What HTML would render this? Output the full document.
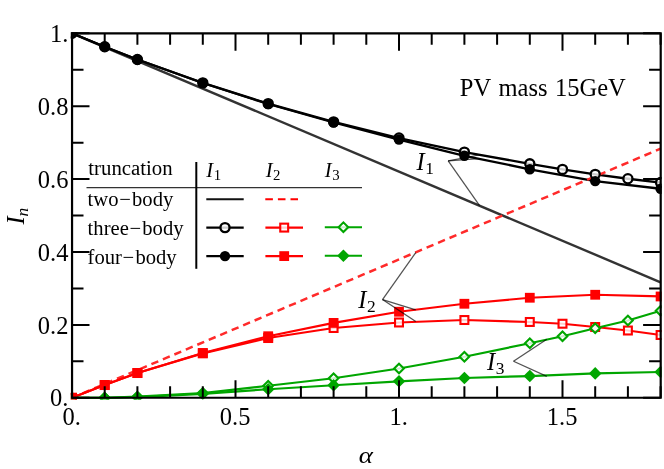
<!DOCTYPE html>
<html lang="en"><head><meta charset="utf-8"><title>PV mass 15GeV</title>
<style>html,body{margin:0;padding:0;background:#fff}svg{display:block}text{font-family:"Liberation Serif",serif;fill:#000}</style>
</head><body>
<svg width="664" height="469" viewBox="0 0 664 469">
<rect width="664" height="469" fill="#fff"/>
<defs><clipPath id="c"><rect x="70.8" y="32.3" width="590.8" height="367.3"/></clipPath></defs>
<g clip-path="url(#c)">
<line x1="72" y1="33.3" x2="660.6" y2="282.29" stroke="#333" stroke-width="2.4"/>
<polyline points="72,33.3 104.7,46.79 137.4,59.54 202.8,82.87 268.2,103.65 333.6,121.87 399,138.02 464.4,152.13 529.8,163.79 562.5,169.4 595.2,174.36 627.9,178.74 660.6,182.56" fill="none" stroke="#000" stroke-width="2.3" stroke-linejoin="round" />
<polyline points="72,33.3 104.7,46.79 137.4,59.54 202.8,83.02 268.2,104.01 333.6,122.49 399,139.52 464.4,155.77 529.8,169.26 595.2,181.1 660.6,188.76" fill="none" stroke="#000" stroke-width="2.3" stroke-linejoin="round" />
<line x1="72" y1="397.8" x2="660.6" y2="148.68" stroke="#ff2a2a" stroke-width="2.5" stroke-dasharray="7.45 5" stroke-dashoffset="0.9"/>
<polyline points="72,397.8 104.7,385.04 137.4,373.01 202.8,353.33 268.2,338.02 333.6,328 399,322.49 464.4,320.02 529.8,321.98 562.5,323.73 595.2,327.01 627.9,330.51 660.6,335" fill="none" stroke="#ff0000" stroke-width="2.2" stroke-linejoin="round" />
<polyline points="72,397.8 104.7,385.01 137.4,373.01 202.8,353 268.2,336.24 333.6,322.9 399,311.74 464.4,303.76 529.8,297.74 595.2,294.76 660.6,296.47" fill="none" stroke="#ff0000" stroke-width="2.2" stroke-linejoin="round" />
<polyline points="72,397.8 104.7,397.8 137.4,396.71 202.8,393.06 268.2,385.77 333.6,378.26 399,368.49 464.4,356.76 529.8,343.23 562.5,336.24 595.2,328.25 627.9,320.49 660.6,310.76" fill="none" stroke="#00a600" stroke-width="2.2" stroke-linejoin="round" />
<polyline points="72,397.8 104.7,397.8 137.4,397.07 202.8,393.79 268.2,389.23 333.6,385.26 399,381.32 464.4,378.01 529.8,376.04 595.2,373.38 660.6,371.99" fill="none" stroke="#00a600" stroke-width="2.2" stroke-linejoin="round" />
<circle cx="72" cy="33.3" r="4.55" fill="#fff" fill-opacity="0.8" stroke="#000" stroke-width="2.3"/>
<circle cx="104.7" cy="46.79" r="4.55" fill="#fff" fill-opacity="0.8" stroke="#000" stroke-width="2.3"/>
<circle cx="137.4" cy="59.54" r="4.55" fill="#fff" fill-opacity="0.8" stroke="#000" stroke-width="2.3"/>
<circle cx="202.8" cy="82.87" r="4.55" fill="#fff" fill-opacity="0.8" stroke="#000" stroke-width="2.3"/>
<circle cx="268.2" cy="103.65" r="4.55" fill="#fff" fill-opacity="0.8" stroke="#000" stroke-width="2.3"/>
<circle cx="333.6" cy="121.87" r="4.55" fill="#fff" fill-opacity="0.8" stroke="#000" stroke-width="2.3"/>
<circle cx="399" cy="138.02" r="4.55" fill="#fff" fill-opacity="0.8" stroke="#000" stroke-width="2.3"/>
<circle cx="464.4" cy="152.13" r="4.55" fill="#fff" fill-opacity="0.8" stroke="#000" stroke-width="2.3"/>
<circle cx="529.8" cy="163.79" r="4.55" fill="#fff" fill-opacity="0.8" stroke="#000" stroke-width="2.3"/>
<circle cx="562.5" cy="169.4" r="4.55" fill="#fff" fill-opacity="0.8" stroke="#000" stroke-width="2.3"/>
<circle cx="595.2" cy="174.36" r="4.55" fill="#fff" fill-opacity="0.8" stroke="#000" stroke-width="2.3"/>
<circle cx="627.9" cy="178.74" r="4.55" fill="#fff" fill-opacity="0.8" stroke="#000" stroke-width="2.3"/>
<circle cx="660.6" cy="182.56" r="4.55" fill="#fff" fill-opacity="0.8" stroke="#000" stroke-width="2.3"/>
<circle cx="72" cy="33.3" r="5.2" fill="#000"/>
<circle cx="104.7" cy="46.79" r="5.2" fill="#000"/>
<circle cx="137.4" cy="59.54" r="5.2" fill="#000"/>
<circle cx="202.8" cy="83.02" r="5.2" fill="#000"/>
<circle cx="268.2" cy="104.01" r="5.2" fill="#000"/>
<circle cx="333.6" cy="122.49" r="5.2" fill="#000"/>
<circle cx="399" cy="139.52" r="5.2" fill="#000"/>
<circle cx="464.4" cy="155.77" r="5.2" fill="#000"/>
<circle cx="529.8" cy="169.26" r="5.2" fill="#000"/>
<circle cx="595.2" cy="181.1" r="5.2" fill="#000"/>
<circle cx="660.6" cy="188.76" r="5.2" fill="#000"/>
<polygon points="65.7,397.8 72,391.5 78.3,397.8 72,404.1" fill="#00a600"/>
<rect x="68.05" y="393.85" width="7.9" height="7.9" fill="#fff" fill-opacity="0.8" stroke="#ff0000" stroke-width="2.1"/>
<rect x="100.75" y="381.09" width="7.9" height="7.9" fill="#fff" fill-opacity="0.8" stroke="#ff0000" stroke-width="2.1"/>
<rect x="133.45" y="369.06" width="7.9" height="7.9" fill="#fff" fill-opacity="0.8" stroke="#ff0000" stroke-width="2.1"/>
<rect x="198.85" y="349.38" width="7.9" height="7.9" fill="#fff" fill-opacity="0.8" stroke="#ff0000" stroke-width="2.1"/>
<rect x="264.25" y="334.07" width="7.9" height="7.9" fill="#fff" fill-opacity="0.8" stroke="#ff0000" stroke-width="2.1"/>
<rect x="329.65" y="324.05" width="7.9" height="7.9" fill="#fff" fill-opacity="0.8" stroke="#ff0000" stroke-width="2.1"/>
<rect x="395.05" y="318.54" width="7.9" height="7.9" fill="#fff" fill-opacity="0.8" stroke="#ff0000" stroke-width="2.1"/>
<rect x="460.45" y="316.07" width="7.9" height="7.9" fill="#fff" fill-opacity="0.8" stroke="#ff0000" stroke-width="2.1"/>
<rect x="525.85" y="318.03" width="7.9" height="7.9" fill="#fff" fill-opacity="0.8" stroke="#ff0000" stroke-width="2.1"/>
<rect x="558.55" y="319.78" width="7.9" height="7.9" fill="#fff" fill-opacity="0.8" stroke="#ff0000" stroke-width="2.1"/>
<rect x="591.25" y="323.06" width="7.9" height="7.9" fill="#fff" fill-opacity="0.8" stroke="#ff0000" stroke-width="2.1"/>
<rect x="623.95" y="326.56" width="7.9" height="7.9" fill="#fff" fill-opacity="0.8" stroke="#ff0000" stroke-width="2.1"/>
<rect x="656.65" y="331.05" width="7.9" height="7.9" fill="#fff" fill-opacity="0.8" stroke="#ff0000" stroke-width="2.1"/>
<rect x="67.1" y="392.9" width="9.8" height="9.8" fill="#ff0000"/>
<rect x="99.8" y="380.11" width="9.8" height="9.8" fill="#ff0000"/>
<rect x="132.5" y="368.11" width="9.8" height="9.8" fill="#ff0000"/>
<rect x="197.9" y="348.1" width="9.8" height="9.8" fill="#ff0000"/>
<rect x="263.3" y="331.34" width="9.8" height="9.8" fill="#ff0000"/>
<rect x="328.7" y="318" width="9.8" height="9.8" fill="#ff0000"/>
<rect x="394.1" y="306.84" width="9.8" height="9.8" fill="#ff0000"/>
<rect x="459.5" y="298.86" width="9.8" height="9.8" fill="#ff0000"/>
<rect x="524.9" y="292.84" width="9.8" height="9.8" fill="#ff0000"/>
<rect x="590.3" y="289.86" width="9.8" height="9.8" fill="#ff0000"/>
<rect x="655.7" y="291.57" width="9.8" height="9.8" fill="#ff0000"/>
<polygon points="99.87,397.8 104.7,392.97 109.53,397.8 104.7,402.63" fill="#fff" fill-opacity="0.8" stroke="#00a600" stroke-width="2.1"/>
<polygon points="132.57,396.71 137.4,391.88 142.23,396.71 137.4,401.54" fill="#fff" fill-opacity="0.8" stroke="#00a600" stroke-width="2.1"/>
<polygon points="197.97,393.06 202.8,388.23 207.63,393.06 202.8,397.89" fill="#fff" fill-opacity="0.8" stroke="#00a600" stroke-width="2.1"/>
<polygon points="263.37,385.77 268.2,380.94 273.03,385.77 268.2,390.6" fill="#fff" fill-opacity="0.8" stroke="#00a600" stroke-width="2.1"/>
<polygon points="328.77,378.26 333.6,373.43 338.43,378.26 333.6,383.09" fill="#fff" fill-opacity="0.8" stroke="#00a600" stroke-width="2.1"/>
<polygon points="394.17,368.49 399,363.66 403.83,368.49 399,373.32" fill="#fff" fill-opacity="0.8" stroke="#00a600" stroke-width="2.1"/>
<polygon points="459.57,356.76 464.4,351.93 469.23,356.76 464.4,361.59" fill="#fff" fill-opacity="0.8" stroke="#00a600" stroke-width="2.1"/>
<polygon points="524.97,343.23 529.8,338.4 534.63,343.23 529.8,348.06" fill="#fff" fill-opacity="0.8" stroke="#00a600" stroke-width="2.1"/>
<polygon points="557.67,336.24 562.5,331.41 567.33,336.24 562.5,341.07" fill="#fff" fill-opacity="0.8" stroke="#00a600" stroke-width="2.1"/>
<polygon points="590.37,328.25 595.2,323.42 600.03,328.25 595.2,333.08" fill="#fff" fill-opacity="0.8" stroke="#00a600" stroke-width="2.1"/>
<polygon points="623.07,320.49 627.9,315.66 632.73,320.49 627.9,325.32" fill="#fff" fill-opacity="0.8" stroke="#00a600" stroke-width="2.1"/>
<polygon points="655.77,310.76 660.6,305.93 665.43,310.76 660.6,315.59" fill="#fff" fill-opacity="0.8" stroke="#00a600" stroke-width="2.1"/>
<polygon points="98.4,397.8 104.7,391.5 111,397.8 104.7,404.1" fill="#00a600"/>
<polygon points="131.1,397.07 137.4,390.77 143.7,397.07 137.4,403.37" fill="#00a600"/>
<polygon points="196.5,393.79 202.8,387.49 209.1,393.79 202.8,400.09" fill="#00a600"/>
<polygon points="261.9,389.23 268.2,382.93 274.5,389.23 268.2,395.53" fill="#00a600"/>
<polygon points="327.3,385.26 333.6,378.96 339.9,385.26 333.6,391.56" fill="#00a600"/>
<polygon points="392.7,381.32 399,375.02 405.3,381.32 399,387.62" fill="#00a600"/>
<polygon points="458.1,378.01 464.4,371.71 470.7,378.01 464.4,384.31" fill="#00a600"/>
<polygon points="523.5,376.04 529.8,369.74 536.1,376.04 529.8,382.34" fill="#00a600"/>
<polygon points="588.9,373.38 595.2,367.08 601.5,373.38 595.2,379.68" fill="#00a600"/>
<polygon points="654.3,371.99 660.6,365.69 666.9,371.99 660.6,378.29" fill="#00a600"/>
</g>
<g stroke="#000" stroke-opacity="0.68" stroke-width="1.25" fill="none"><line x1="448.2" y1="160.8" x2="479" y2="155"/><line x1="448.2" y1="160.8" x2="479" y2="158.6"/><line x1="448.2" y1="160.8" x2="479.6" y2="205.7"/><line x1="382.5" y1="299.6" x2="415.75" y2="252.6"/><line x1="382.5" y1="299.6" x2="415.75" y2="309.8"/><line x1="382.5" y1="299.6" x2="415.75" y2="321.6"/><line x1="513.5" y1="361.25" x2="546.8" y2="339.3"/><line x1="513.5" y1="361.25" x2="546.8" y2="376.4"/></g>
<g stroke="#000" fill="none">
<path d="M72.05 33.45H660.7V397.75H72.05Z" stroke-width="2.2"/>
<path d="M72 397.8v-17.5M72 33.3v17.5M104.7 397.8v-11.5M104.7 33.3v11.5M137.4 397.8v-11.5M137.4 33.3v11.5M170.1 397.8v-11.5M170.1 33.3v11.5M202.8 397.8v-11.5M202.8 33.3v11.5M235.5 397.8v-17.5M235.5 33.3v17.5M268.2 397.8v-11.5M268.2 33.3v11.5M300.9 397.8v-11.5M300.9 33.3v11.5M333.6 397.8v-11.5M333.6 33.3v11.5M366.3 397.8v-11.5M366.3 33.3v11.5M399 397.8v-17.5M399 33.3v17.5M431.7 397.8v-11.5M431.7 33.3v11.5M464.4 397.8v-11.5M464.4 33.3v11.5M497.1 397.8v-11.5M497.1 33.3v11.5M529.8 397.8v-11.5M529.8 33.3v11.5M562.5 397.8v-17.5M562.5 33.3v17.5M595.2 397.8v-11.5M595.2 33.3v11.5M627.9 397.8v-11.5M627.9 33.3v11.5M660.6 397.8v-11.5M660.6 33.3v11.5M72 397.8h17.5M660.6 397.8h-17.5M72 361.35h11.5M660.6 361.35h-11.5M72 324.9h17.5M660.6 324.9h-17.5M72 288.45h11.5M660.6 288.45h-11.5M72 252h17.5M660.6 252h-17.5M72 215.55h11.5M660.6 215.55h-11.5M72 179.1h17.5M660.6 179.1h-17.5M72 142.65h11.5M660.6 142.65h-11.5M72 106.2h17.5M660.6 106.2h-17.5M72 69.75h11.5M660.6 69.75h-11.5M72 33.3h17.5M660.6 33.3h-17.5" stroke-width="2"/>
</g>
<g font-size="24.5">
<text x="71.6" y="425.3" text-anchor="middle">0.</text>
<text x="235.1" y="425.3" text-anchor="middle">0.5</text>
<text x="398.6" y="425.3" text-anchor="middle">1.</text>
<text x="562.1" y="425.3" text-anchor="middle">1.5</text>
<text x="68.4" y="406.4" text-anchor="end">0.</text>
<text x="68.4" y="333.5" text-anchor="end">0.2</text>
<text x="68.4" y="260.6" text-anchor="end">0.4</text>
<text x="68.4" y="187.7" text-anchor="end">0.6</text>
<text x="68.4" y="114.8" text-anchor="end">0.8</text>
<text x="68.4" y="41.9" text-anchor="end">1.</text>
</g>
<text transform="translate(365.8 462.8) scale(1.1 0.93)" font-size="24.5" font-style="italic" text-anchor="middle">α</text>
<text transform="translate(24.1 224.6) rotate(-90)" font-size="24.5" font-style="italic">I<tspan font-size="17.4" dy="3.8">n</tspan></text>
<text x="459.8" y="96.2" font-size="24.5" dx="0 0 0 1.7 0 0 0 0 1.28">PV mass 15GeV</text>
<text x="416.6" y="170" font-size="24.5"><tspan font-style="italic">I</tspan><tspan font-size="17.4" dy="3.8" dx="0.6">1</tspan></text>
<text x="358.2" y="308" font-size="24.5"><tspan font-style="italic">I</tspan><tspan font-size="17.4" dy="3.8" dx="0.6">2</tspan></text>
<text x="486.9" y="370" font-size="24.5"><tspan font-style="italic">I</tspan><tspan font-size="17.4" dy="3.8" dx="0.6">3</tspan></text>
<g font-size="20.6">
<text x="88.3" y="175.3" font-size="20.8">truncation</text>
<text x="87.6" y="205.5" dx="0 0 0 0.7 1.2">two−body</text>
<text x="87.6" y="234.5" dx="0 0 0 0 0 0.7 1.2">three−body</text>
<text x="87.6" y="263.5" dx="0 0 0 0 0.7 1.2">four−body</text>
<text x="206.3" y="177"><tspan font-style="italic">I</tspan><tspan font-size="14.8" dy="3.1" dx="0.5">1</tspan></text>
<text x="265.7" y="177"><tspan font-style="italic">I</tspan><tspan font-size="14.8" dy="3.1" dx="0.5">2</tspan></text>
<text x="324.8" y="177"><tspan font-style="italic">I</tspan><tspan font-size="14.8" dy="3.1" dx="0.5">3</tspan></text>
</g>
<line x1="86.5" y1="187.7" x2="362" y2="187.7" stroke="#333" stroke-width="1.3"/>
<line x1="196.3" y1="162" x2="196.3" y2="268.8" stroke="#000" stroke-width="2"/>
<line x1="206.3" y1="199.3" x2="243.7" y2="199.3" stroke="#111" stroke-width="2"/>
<line x1="265.3" y1="199.3" x2="298" y2="199.3" stroke="#ff0000" stroke-width="2" stroke-dasharray="7.6 5"/>
<line x1="206.3" y1="227.6" x2="243.7" y2="227.6" stroke="#000" stroke-width="2.2"/>
<circle cx="225" cy="227.6" r="4.55" fill="#fff" fill-opacity="0.8" stroke="#000" stroke-width="2.3"/>
<line x1="265.4" y1="227.6" x2="303" y2="227.6" stroke="#ff0000" stroke-width="2.1"/>
<rect x="280.25" y="223.65" width="7.9" height="7.9" fill="#fff" fill-opacity="0.8" stroke="#ff0000" stroke-width="2.1"/>
<line x1="324.8" y1="227.2" x2="362" y2="227.2" stroke="#00a600" stroke-width="2.1"/>
<polygon points="338.57,227.2 343.4,222.37 348.23,227.2 343.4,232.03" fill="#fff" fill-opacity="0.8" stroke="#00a600" stroke-width="2.1"/>
<line x1="206.3" y1="256.1" x2="243.7" y2="256.1" stroke="#000" stroke-width="2.2"/>
<circle cx="225" cy="256.1" r="5.2" fill="#000"/>
<line x1="265.4" y1="256.1" x2="303" y2="256.1" stroke="#ff0000" stroke-width="2.1"/>
<rect x="279.3" y="251.2" width="9.8" height="9.8" fill="#ff0000"/>
<line x1="324.8" y1="255.7" x2="362" y2="255.7" stroke="#00a600" stroke-width="2.1"/>
<polygon points="337.1,255.7 343.4,249.4 349.7,255.7 343.4,262" fill="#00a600"/>
</svg>
</body></html>
